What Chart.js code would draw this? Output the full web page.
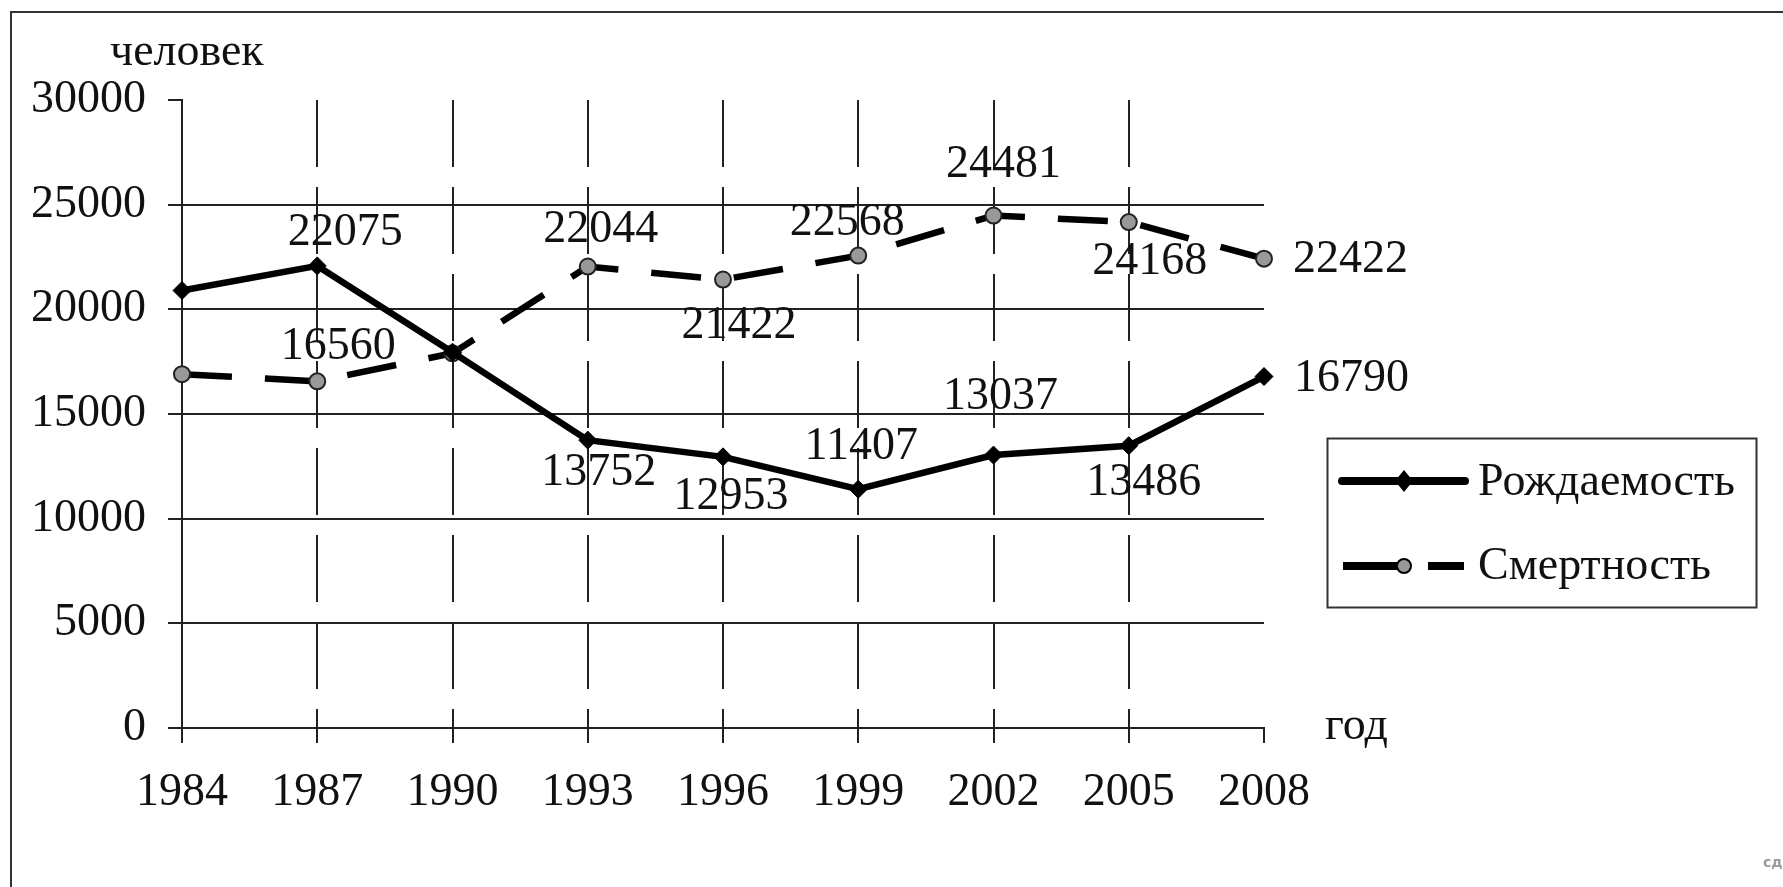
<!DOCTYPE html>
<html><head><meta charset="utf-8">
<script src="https://cdn.jsdelivr.net/npm/chart.js@4.4.1/dist/chart.umd.min.js"></script>
<style>html,body{margin:0;padding:0;background:#fff;overflow:hidden}#wrap{width:1783px;height:887px;position:relative}</style>
</head><body><div id="wrap"><canvas id="c"></canvas></div>
<script>
// ---- data ----
const years = ['1984','1987','1990','1993','1996','1999','2002','2005','2008'];
const births = [20900, 22075, 17950, 13752, 12953, 11407, 13037, 13486, 16790];
const deaths = [16900, 16560, 17900, 22044, 21422, 22568, 24481, 24168, 22422];
const yTickValues = [0, 5000, 10000, 15000, 20000, 25000, 30000];
const birthLabelShown = [false, true, false, true, true, true, true, true, true];
const deathLabelShown = [false, true, false, true, true, true, true, true, true];
const seriesNames = ['Рождаемость', 'Смертность'];
const yUnit = 'человек';
const xUnit = 'год';
const watermark = 'сд';

// ---- styles / placement (not data) ----
const FONT = '"Liberation Serif","Times New Roman",serif';
const FS = 46;
const birthLabelOffsets = [null,[28,-33],null,[11,33],[8,40],[3,-42],[7,-58],[15,37],[30,2,'left']];
const deathLabelOffsets = [null,[21,-34],null,[13,-37],[16,46],[-11,-33],[10,-51],[21,40],[29,1,'left']];

const extras = {
  id: 'extras',
  beforeDraw(chart) {
    const ctx = chart.ctx;
    ctx.save();
    ctx.fillStyle = '#fff';
    ctx.fillRect(0, 0, chart.width, chart.height);
    ctx.restore();
  },
  afterDatasetsDraw(chart) {
    const ctx = chart.ctx;
    ctx.save();
    ctx.fillStyle = '#111';
    ctx.font = FS + 'px ' + FONT;
    ctx.textBaseline = 'middle';
    const sets = [[0, births, birthLabelShown, birthLabelOffsets], [1, deaths, deathLabelShown, deathLabelOffsets]];
    sets.forEach(([di, vals, shown, offs]) => {
      const meta = chart.getDatasetMeta(di);
      meta.data.forEach((pt, i) => {
        if (!shown[i] || !offs[i]) return;
        const o = offs[i];
        ctx.textAlign = o[2] || 'center';
        ctx.fillText(String(vals[i]), pt.x + o[0], pt.y + o[1]);
      });
    });
    ctx.restore();
  },
  afterDraw(chart) {
    const ctx = chart.ctx;
    ctx.save();
    // outer frame
    ctx.strokeStyle = '#333';
    ctx.lineWidth = 2;
    ctx.beginPath();
    ctx.moveTo(11, 900); ctx.lineTo(11, 12); ctx.lineTo(1800, 12);
    ctx.stroke();
    // unit texts
    ctx.fillStyle = '#111';
    ctx.font = FS + 'px ' + FONT;
    ctx.textBaseline = 'alphabetic';
    ctx.textAlign = 'left';
    ctx.fillText(yUnit, 110, 65);
    ctx.fillText(xUnit, 1325, 739);
    // legend box
    ctx.strokeStyle = '#333';
    ctx.lineWidth = 2;
    ctx.strokeRect(1327.5, 438.5, 429, 169);
    // legend entry 1
    ctx.strokeStyle = '#000';
    ctx.lineWidth = 8;
    ctx.lineCap = 'round';
    ctx.beginPath(); ctx.moveTo(1342, 481); ctx.lineTo(1465, 481); ctx.stroke();
    ctx.fillStyle = '#000';
    ctx.beginPath();
    ctx.moveTo(1404, 470); ctx.lineTo(1413, 481); ctx.lineTo(1404, 492); ctx.lineTo(1395, 481); ctx.closePath();
    ctx.fill();
    // legend entry 2
    ctx.lineCap = 'butt';
    ctx.beginPath(); ctx.moveTo(1343, 566); ctx.lineTo(1402, 566); ctx.stroke();
    ctx.beginPath(); ctx.moveTo(1428, 566); ctx.lineTo(1464, 566); ctx.stroke();
    ctx.fillStyle = '#999';
    ctx.lineWidth = 2;
    ctx.beginPath(); ctx.arc(1404, 566, 7, 0, Math.PI * 2); ctx.fill(); ctx.stroke();
    ctx.fillStyle = '#111';
    ctx.textBaseline = 'middle';
    ctx.fillText(seriesNames[0], 1478, 483);
    ctx.fillText(seriesNames[1], 1478, 567);
    // watermark
    ctx.fillStyle = '#9a9a9a';
    ctx.font = 'bold 14px "DejaVu Sans",sans-serif';
    ctx.fillText(watermark, 1763, 863);
    ctx.restore();
  }
};

new Chart(document.getElementById('c'), {
  type: 'line',
  data: {
    labels: years,
    datasets: [
      {
        label: seriesNames[0], data: births,
        borderColor: '#000', borderWidth: 6.5,
        pointStyle: 'rectRot', pointRadius: 9, pointBackgroundColor: '#000', pointBorderColor: '#000', pointBorderWidth: 1,
        tension: 0, order: 1
      },
      {
        label: seriesNames[1], data: deaths,
        borderColor: '#000', borderWidth: 6.5, borderDash: [50, 33],
        pointStyle: 'circle', pointRadius: 8, pointBackgroundColor: '#999', pointBorderColor: '#222', pointBorderWidth: 2,
        tension: 0, order: 2
      }
    ]
  },
  options: {
    responsive: true, maintainAspectRatio: false, animation: false,
    devicePixelRatio: 1,
    layout: { padding: { left: 0, top: 100, right: 519, bottom: 0 } },
    plugins: { legend: { display: false }, tooltip: { enabled: false } },
    scales: {
      x: {
        type: 'category', offset: false,
        afterFit(s) { s.height = 159; },
        grid: {
          color: (c) => (c.index === 0 || c.index === years.length - 1) ? 'rgba(0,0,0,0)' : '#222',
          lineWidth: 2, tickColor: '#222', tickLength: 15, tickWidth: 2, drawTicks: true
        },
        border: { display: true, color: '#222', width: 2, dash: [67, 20] },
        ticks: { color: '#111', font: { family: FONT, size: FS }, padding: 22, maxRotation: 0, autoSkip: false }
      },
      y: {
        min: 0, max: 30000,
        afterFit(s) { s.width = 182; },
        afterBuildTicks(s) { s.ticks = yTickValues.map(v => ({ value: v })); },
        grid: {
          color: (c) => (c.tick && c.tick.value === 30000) ? 'rgba(0,0,0,0)' : '#222',
          lineWidth: 2, tickColor: '#222', tickLength: 14, tickWidth: 2
        },
        border: { display: true, color: '#222', width: 2 },
        ticks: { color: '#111', font: { family: FONT, size: FS }, padding: 22, callback: (v) => String(v) }
      }
    }
  },
  plugins: [extras]
});
</script></body></html>
